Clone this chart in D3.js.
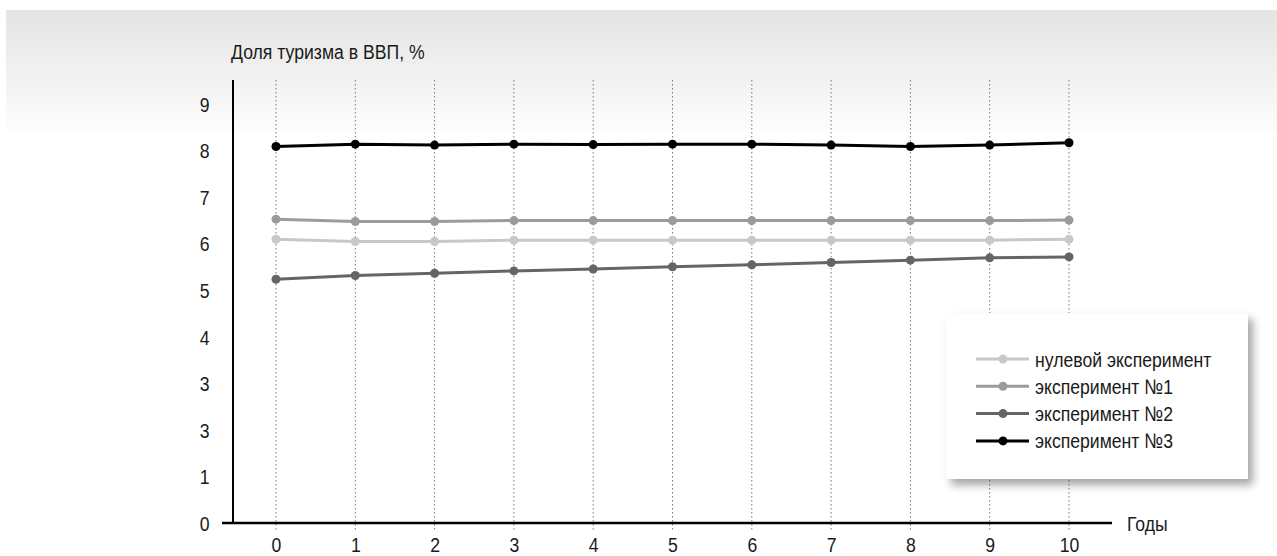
<!DOCTYPE html>
<html><head><meta charset="utf-8">
<script src="https://cdn.jsdelivr.net/npm/d3@7"></script>
<style>
html,body{margin:0;padding:0;background:#fff;}
svg{display:block;font-family:"Liberation Sans",Arial,sans-serif;}
</style></head>
<body>
<svg id="chart" width="1277" height="556"></svg>
<script>
const years = [0,1,2,3,4,5,6,7,8,9,10];
const yTickValues = [0,1,2,3,4,5,6,7,8,9];
const yTickLabels = ["0","1","3","3","4","5","6","7","8","9"];
const seriesNames = ["нулевой эксперимент","эксперимент №1","эксперимент №2","эксперимент №3"];
const nullExp = [6.09,6.04,6.04,6.07,6.07,6.07,6.07,6.07,6.07,6.07,6.09];
const exp1 = [6.52,6.47,6.47,6.49,6.49,6.49,6.49,6.49,6.49,6.49,6.50];
const exp2 = [5.23,5.31,5.36,5.41,5.45,5.50,5.54,5.59,5.64,5.69,5.71];
const exp3 = [8.08,8.13,8.11,8.13,8.12,8.13,8.13,8.11,8.08,8.11,8.16];
const colors = ["#c8c8c8","#9b9b9b","#656565","#000000"];
const titleText = "Доля туризма в ВВП, %";
const xAxisTitle = "Годы";

const series = [nullExp, exp1, exp2, exp3];
const svg = d3.select("#chart");
const SX = 0.84;
const FS = 21;

// background gradient band
const defs = svg.append("defs");
const grad = defs.append("linearGradient").attr("id","bg").attr("x1",0).attr("y1",0).attr("x2",0).attr("y2",1);
grad.append("stop").attr("offset","0%").attr("stop-color","#e4e4e4");
grad.append("stop").attr("offset","100%").attr("stop-color","#fdfdfd");
svg.append("rect").attr("x",6).attr("y",10).attr("width",1271).attr("height",123).attr("fill","url(#bg)");

const f = defs.append("filter").attr("id","shadow").attr("x","-10%").attr("y","-10%").attr("width","130%").attr("height","140%");
f.append("feDropShadow").attr("dx",5).attr("dy",6).attr("stdDeviation",4).attr("flood-color","#000").attr("flood-opacity",0.35);

const x = d3.scaleLinear().domain([0,10]).range([276,1069]);
const y = d3.scaleLinear().domain([0,9]).range([523,103.6]);

// grid lines
svg.append("g").selectAll("line").data(years).join("line")
  .attr("x1",d=>x(d)).attr("x2",d=>x(d)).attr("y1",80).attr("y2",530)
  .attr("stroke","#7a7a7a").attr("stroke-width",1).attr("stroke-dasharray","1.5,2.5");

// x axis
const xAxis = d3.axisBottom(x).tickValues(years).tickFormat(d3.format("d")).tickSize(0).tickPadding(14.5);
const gx = svg.append("g").attr("transform","translate(0,523)").call(xAxis);
gx.select(".domain").remove();
gx.selectAll("text").attr("font-size",FS).attr("fill","#1a1a1a").attr("font-family",null);
svg.append("line").attr("x1",222).attr("x2",1112).attr("y1",523).attr("y2",523).attr("stroke","#000").attr("stroke-width",2.5);

// y axis
const yAxis = d3.axisLeft(y).tickValues(yTickValues).tickFormat((d,i)=>yTickLabels[i]).tickSize(0).tickPadding(23.5);
const gy = svg.append("g").attr("transform","translate(233,0)").call(yAxis);
gy.select(".domain").remove();
gy.selectAll("text").attr("font-size",FS).attr("fill","#1a1a1a").attr("font-family",null).attr("dy","0.36em");
svg.append("line").attr("x1",233).attr("x2",233).attr("y1",80).attr("y2",524).attr("stroke","#000").attr("stroke-width",2);

svg.append("text").attr("x",231).attr("y",59).attr("font-size",FS).attr("fill","#1a1a1a").text(titleText);
svg.append("text").attr("x",1127).attr("y",523).attr("dy","0.36em").attr("font-size",FS).attr("fill","#1a1a1a").text(xAxisTitle);

// lines
const line = d3.line().x((d,i)=>x(years[i])).y(d=>y(d));
series.forEach((s,k)=>{
  svg.append("path").datum(s).attr("d",line).attr("fill","none").attr("stroke",colors[k]).attr("stroke-width",3);
  svg.append("g").selectAll("circle").data(s).join("circle")
    .attr("cx",(d,i)=>x(years[i])).attr("cy",d=>y(d)).attr("r",4.5).attr("fill",colors[k]);
});

// legend
const lg = svg.append("g");
lg.append("rect").attr("x",946).attr("y",313).attr("width",302).attr("height",166).attr("fill","#fff").attr("filter","url(#shadow)");
seriesNames.forEach((n,k)=>{
  const yy = 359 + k*27.3;
  lg.append("line").attr("x1",976).attr("x2",1029).attr("y1",yy).attr("y2",yy).attr("stroke",colors[k]).attr("stroke-width",3);
  lg.append("circle").attr("cx",1003).attr("cy",yy).attr("r",4.5).attr("fill",colors[k]);
  lg.append("text").attr("x",1035).attr("y",yy).attr("dy","0.36em").attr("font-size",FS).attr("fill","#1a1a1a").text(n);
});

// condensed look: scale text horizontally about its anchor point
svg.selectAll("text").each(function(){
  const t = d3.select(this);
  const tx = +t.attr("x") || 0, ty = +t.attr("y") || 0;
  t.attr("x",0).attr("y",0).attr("transform",`translate(${tx},${ty}) scale(${SX},1)`);
});
</script>
</body></html>
